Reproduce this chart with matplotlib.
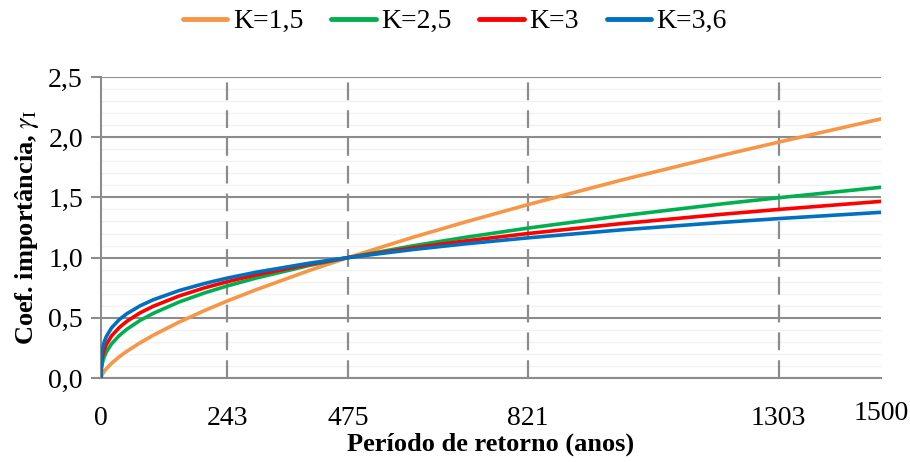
import matplotlib
matplotlib.use("Agg")
import matplotlib.pyplot as plt
from matplotlib.ticker import MultipleLocator, FixedLocator

# Return period T (years)
T = [0, 1, 3, 6, 10, 20, 35, 50, 75, 100, 150, 200, 243, 300, 400, 475,
     600, 700, 821, 1000, 1200, 1303, 1500]

# Importance coefficient for each K
g_k15 = [0, 0.016, 0.034, 0.054, 0.076, 0.121, 0.176, 0.223, 0.292, 0.354, 0.464,
         0.562, 0.640, 0.736, 0.892, 1.000, 1.169, 1.295, 1.440, 1.643, 1.855, 1.959, 2.152]
g_k25 = [0, 0.085, 0.132, 0.174, 0.214, 0.282, 0.352, 0.406, 0.478, 0.536, 0.631,
         0.708, 0.765, 0.832, 0.934, 1.000, 1.098, 1.168, 1.245, 1.347, 1.449, 1.497, 1.584]
g_k3 = [0, 0.128, 0.185, 0.233, 0.276, 0.348, 0.419, 0.472, 0.541, 0.595, 0.681,
        0.750, 0.800, 0.858, 0.944, 1.000, 1.081, 1.138, 1.200, 1.282, 1.362, 1.400, 1.467]
g_k36 = [0, 0.181, 0.245, 0.297, 0.342, 0.415, 0.485, 0.535, 0.599, 0.649, 0.726,
         0.786, 0.830, 0.880, 0.953, 1.000, 1.067, 1.114, 1.164, 1.230, 1.294, 1.324, 1.376]

series_labels = ["K=1,5", "K=2,5", "K=3", "K=3,6"]
series_values = [g_k15, g_k25, g_k3, g_k36]
colors = ["#F79646", "#00B050", "#FF0000", "#0070C0"]

ref_periods = [243, 475, 821, 1303]
x_ticks = [0, 243, 475, 821, 1303, 1500]
x_tick_labels = ["0", "243", "475", "821", "1303", "1500"]
y_ticks = [0.0, 0.5, 1.0, 1.5, 2.0, 2.5]
y_tick_labels = ["0,0", "0,5", "1,0", "1,5", "2,0", "2,5"]

plt.rcParams['font.family'] = ['Liberation Serif', 'DejaVu Serif']
plt.rcParams['mathtext.fontset'] = 'stix'

fig = plt.figure(figsize=(9.10, 4.62), dpi=100)
ax = fig.add_axes([101/910, 1-378/462, 780/910, 301/462])

grid_col = "#8C8C8C"
ax.set_xlim(0, 1500)
ax.set_ylim(0, 2.5)

# minor gridlines
ax.yaxis.set_minor_locator(MultipleLocator(0.1))
ax.grid(which='minor', axis='y', color='#F2F2F2', linewidth=1.0, zorder=0)
ax.grid(which='major', axis='y', color=grid_col, linewidth=1.5, zorder=1)
ax.set_axisbelow(True)

for t in ref_periods:
    ax.axvline(t, ymin=0, ymax=0.985, color=grid_col, linewidth=1.6,
               dashes=(8, 4.5), zorder=1.5)

for lab, vals, c in zip(series_labels, series_values, colors):
    ax.plot(T, vals, color=c, linewidth=2.6, label=lab, zorder=3,
            solid_capstyle='round', solid_joinstyle='round')

for s in ['top', 'right']:
    ax.spines[s].set_visible(False)
ax.spines['left'].set_color(grid_col)
ax.spines['left'].set_linewidth(1.5)
ax.spines['bottom'].set_color(grid_col)
ax.spines['bottom'].set_linewidth(1.5)

ax.yaxis.set_major_locator(FixedLocator(y_ticks))
ax.set_yticklabels(y_tick_labels)
ax.tick_params(axis='y', which='major', length=7, width=1.5, color=grid_col,
               labelsize=20, pad=6)
ax.tick_params(axis='y', which='minor', length=0)

ax.set_xticks(x_ticks)
ax.set_xticklabels(x_tick_labels)
ax.tick_params(axis='x', length=0, labelsize=20, pad=20)
# last label sits slightly higher in the reference
for lbl in ax.get_xticklabels():
    if lbl.get_text() == "1500":
        lbl.set_y(0.015)

ax.set_xlabel("Período de retorno (anos)", fontsize=19, fontweight='bold', labelpad=1)
ax.set_ylabel(r"Coef. importância, $\gamma_\mathrm{I}$", fontsize=19, fontweight='bold', labelpad=5)

leg = fig.legend(loc='upper center', bbox_to_anchor=(0.5, 1.035), ncol=4, frameon=False,
                 fontsize=20, handlelength=1.6, handletextpad=0.2, columnspacing=1.0)
for h in leg.get_lines():
    h.set_linewidth(3.5)

fig.savefig("out.png", dpi=100)
